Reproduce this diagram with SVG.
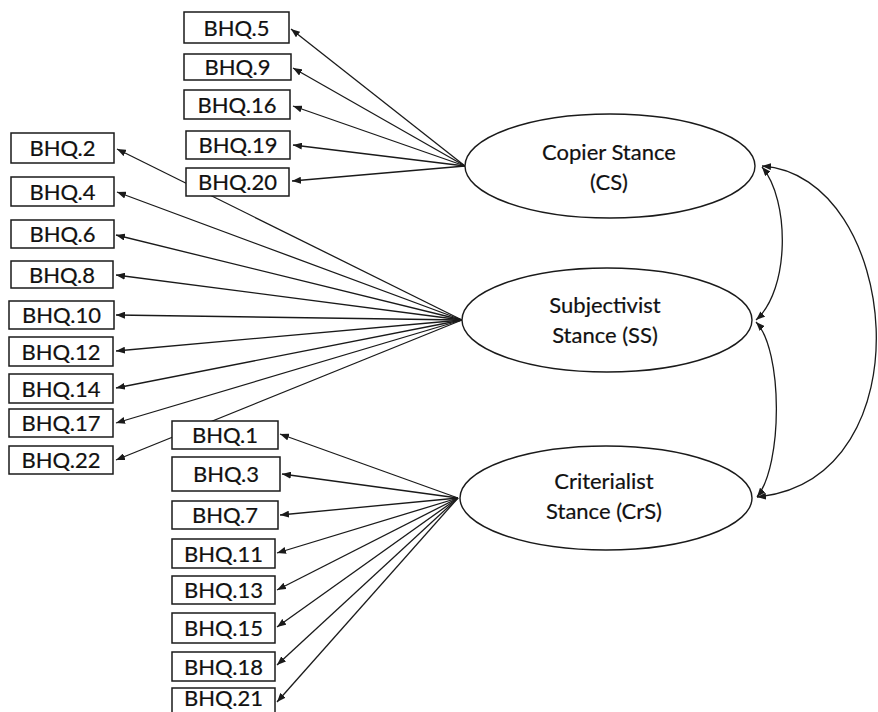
<svg xmlns="http://www.w3.org/2000/svg" width="878" height="712" viewBox="0 0 878 712">
<style>
.bg{fill:#fff}
.box rect{fill:#fff;stroke:#1a1a1a;stroke-width:1.5}
.box text,.lat text{font-family:Lato,"Open Sans","Liberation Sans",sans-serif;font-size:22px;fill:#111;stroke:#111;stroke-width:0.2;text-anchor:middle}
.lat ellipse{fill:#fff;stroke:#1a1a1a;stroke-width:1.4}
#connectors line,#connectors path{stroke:#1a1a1a;stroke-width:1.3;fill:none}
</style>
<defs>
<marker id="ah" markerUnits="userSpaceOnUse" markerWidth="9" markerHeight="7" refX="9" refY="3.5" orient="auto-start-reverse">
<path d="M0,0 L9,3.5 L0,7 z" fill="#1a1a1a"/>
</marker>
</defs>
<rect class="bg" x="0" y="0" width="878" height="712"/>
<g id="connectors">
<line x1="465" y1="166" x2="291" y2="29" marker-end="url(#ah)"/>
<line x1="465" y1="166" x2="293" y2="68" marker-end="url(#ah)"/>
<line x1="465" y1="166" x2="293" y2="106" marker-end="url(#ah)"/>
<line x1="465" y1="166" x2="293" y2="145" marker-end="url(#ah)"/>
<line x1="465" y1="166" x2="292" y2="181" marker-end="url(#ah)"/>
<line x1="462" y1="320" x2="117" y2="149" marker-end="url(#ah)"/>
<line x1="462" y1="320" x2="117" y2="192" marker-end="url(#ah)"/>
<line x1="462" y1="320" x2="116" y2="235" marker-end="url(#ah)"/>
<line x1="462" y1="320" x2="116" y2="275" marker-end="url(#ah)"/>
<line x1="462" y1="320" x2="116" y2="315" marker-end="url(#ah)"/>
<line x1="462" y1="320" x2="116" y2="351" marker-end="url(#ah)"/>
<line x1="462" y1="320" x2="116" y2="388" marker-end="url(#ah)"/>
<line x1="462" y1="320" x2="116" y2="423" marker-end="url(#ah)"/>
<line x1="462" y1="320" x2="116" y2="460" marker-end="url(#ah)"/>
<line x1="458" y1="498" x2="280" y2="434" marker-end="url(#ah)"/>
<line x1="458" y1="498" x2="282" y2="474" marker-end="url(#ah)"/>
<line x1="458" y1="498" x2="280" y2="515" marker-end="url(#ah)"/>
<line x1="458" y1="498" x2="277" y2="553" marker-end="url(#ah)"/>
<line x1="458" y1="498" x2="277" y2="590" marker-end="url(#ah)"/>
<line x1="458" y1="498" x2="277" y2="627" marker-end="url(#ah)"/>
<line x1="458" y1="498" x2="277" y2="665" marker-end="url(#ah)"/>
<line x1="458" y1="498" x2="277" y2="702" marker-end="url(#ah)"/>
<path d="M762,167 C790,200 790,290 756,320" marker-start="url(#ah)" marker-end="url(#ah)"/>
<path d="M756,322 C783,350 783,465 757,497" marker-start="url(#ah)" marker-end="url(#ah)"/>
<path d="M762,166 C900,175 930,480 757,497" marker-start="url(#ah)" marker-end="url(#ah)"/>
</g>
<g id="cs" class="lat"><ellipse cx="610" cy="166" rx="145" ry="52"/><text x="609" y="160">Copier Stance</text><text x="609" y="190">(CS)</text></g>
<g id="ss" class="lat"><ellipse cx="607" cy="320" rx="145" ry="52"/><text x="605" y="313">Subjectivist</text><text x="605" y="343">Stance (SS)</text></g>
<g id="crs" class="lat"><ellipse cx="606" cy="498" rx="146" ry="52"/><text x="604" y="489">Criterialist</text><text x="604" y="519">Stance (CrS)</text></g>
<g id="bhq5" class="box"><rect x="184" y="12" width="105" height="31"/><text x="236.5" y="35.5">BHQ.5</text></g>
<g id="bhq9" class="box"><rect x="184" y="54" width="107" height="26"/><text x="237.5" y="75">BHQ.9</text></g>
<g id="bhq16" class="box"><rect x="184" y="90" width="106" height="29"/><text x="237" y="112.5">BHQ.16</text></g>
<g id="bhq19" class="box"><rect x="186" y="131" width="104" height="28"/><text x="238" y="153">BHQ.19</text></g>
<g id="bhq20" class="box"><rect x="186" y="168" width="103" height="28"/><text x="237.5" y="190">BHQ.20</text></g>
<g id="bhq2" class="box"><rect x="11" y="133" width="103" height="30"/><text x="62.5" y="156">BHQ.2</text></g>
<g id="bhq4" class="box"><rect x="11" y="177" width="103" height="29"/><text x="62.5" y="199.5">BHQ.4</text></g>
<g id="bhq6" class="box"><rect x="11" y="220" width="103" height="28"/><text x="62.5" y="242">BHQ.6</text></g>
<g id="bhq8" class="box"><rect x="11" y="261" width="102" height="27"/><text x="62" y="282.5">BHQ.8</text></g>
<g id="bhq10" class="box"><rect x="9" y="301" width="105" height="28"/><text x="61.5" y="323">BHQ.10</text></g>
<g id="bhq12" class="box"><rect x="9" y="337" width="104" height="29"/><text x="61" y="359.5">BHQ.12</text></g>
<g id="bhq14" class="box"><rect x="9" y="374" width="104" height="29"/><text x="61" y="396.5">BHQ.14</text></g>
<g id="bhq17" class="box"><rect x="9" y="409" width="104" height="28"/><text x="61" y="431">BHQ.17</text></g>
<g id="bhq22" class="box"><rect x="9" y="446" width="104" height="28"/><text x="61" y="468">BHQ.22</text></g>
<g id="bhq1" class="box"><rect x="172" y="421" width="106" height="28"/><text x="225" y="443">BHQ.1</text></g>
<g id="bhq3" class="box"><rect x="172" y="457" width="108" height="34"/><text x="226" y="482">BHQ.3</text></g>
<g id="bhq7" class="box"><rect x="172" y="501" width="106" height="28"/><text x="225" y="523">BHQ.7</text></g>
<g id="bhq11" class="box"><rect x="172" y="539" width="103" height="29"/><text x="223.5" y="561.5">BHQ.11</text></g>
<g id="bhq13" class="box"><rect x="172" y="576" width="103" height="28"/><text x="223.5" y="598">BHQ.13</text></g>
<g id="bhq15" class="box"><rect x="172" y="613" width="103" height="30"/><text x="223.5" y="636">BHQ.15</text></g>
<g id="bhq18" class="box"><rect x="172" y="652" width="103" height="29"/><text x="223.5" y="674.5">BHQ.18</text></g>
<g id="bhq21" class="box"><rect x="172" y="688" width="103" height="30"/><text x="223.5" y="706">BHQ.21</text></g>
</svg>
